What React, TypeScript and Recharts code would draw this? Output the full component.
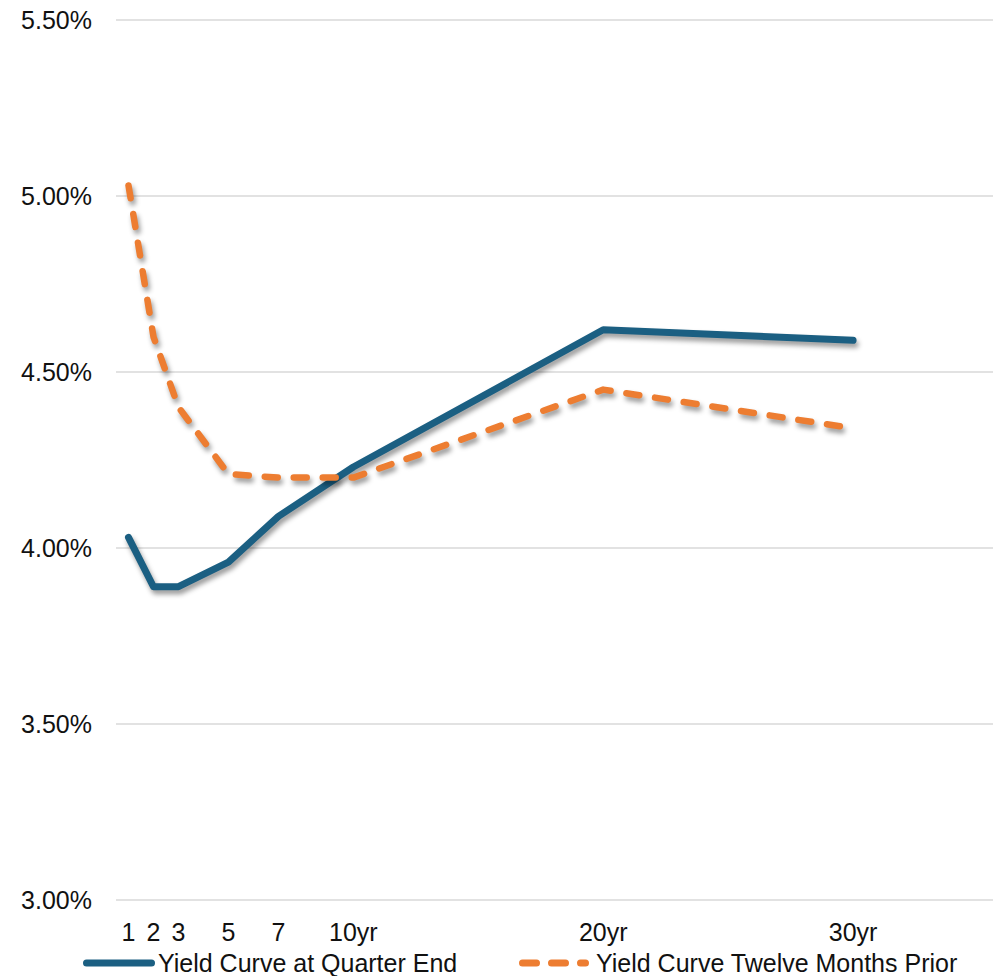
import React from 'react';
import { LineChart, Line, XAxis, YAxis, CartesianGrid, Legend } from 'recharts';

// maturities in years
const maturities = [1, 2, 3, 5, 7, 10, 20, 30];
const tickLabels = ['1', '2', '3', '5', '7', '10yr', '20yr', '30yr'];
const quarterEnd = [4.03, 3.89, 3.89, 3.96, 4.09, 4.23, 4.62, 4.59];
const twelveMonthsPrior = [5.03, 4.6, 4.4, 4.21, 4.2, 4.2, 4.45, 4.34];
const yTicks = [3, 3.5, 4, 4.5, 5, 5.5];

const seriesNames = ['Yield Curve at Quarter End', 'Yield Curve Twelve Months Prior'];

const BLUE = '#1b5f82';
const ORANGE = '#ed7d31';
const FONT = '"Liberation Sans", Arial, sans-serif';

const data = maturities.map((m, i) => ({
    maturity: m,
    quarterEnd: quarterEnd[i],
    prior: twelveMonthsPrior[i],
}));

const renderLegend = () => (
    <div style={{ position: 'relative', height: 30, fontFamily: FONT, fontSize: 25, color: '#111' }}>
        <div style={{ position: 'absolute', left: 83, top: 2, display: 'flex', alignItems: 'center', whiteSpace: 'nowrap' }}>
            <svg width={72} height={12} style={{ marginRight: 3 }}>
                <line x1={3.5} y1={6} x2={68.5} y2={6} stroke={BLUE} strokeWidth={7} strokeLinecap="round" />
            </svg>
            <span style={{ lineHeight: '30px' }}>{seriesNames[0]}</span>
        </div>
        <div style={{ position: 'absolute', left: 519, top: 2, display: 'flex', alignItems: 'center', whiteSpace: 'nowrap' }}>
            <svg width={72} height={12} style={{ marginRight: 5 }}>
                <line x1={3.5} y1={6} x2={66.5} y2={6} stroke={ORANGE} strokeWidth={7} strokeLinecap="round" strokeDasharray="14 15" />
            </svg>
            <span style={{ lineHeight: '30px' }}>{seriesNames[1]}</span>
        </div>
    </div>
);

export default function App() {
    return (
        <div style={{ position: 'absolute', left: 0, top: 0, width: 1005, height: 976, overflow: 'hidden', background: '#fff' }}>
            {/* soft drop shadow like the original */}
            <style>{'path.recharts-line-curve { filter: drop-shadow(2px 4px 2.5px rgba(0,0,0,0.4)); }'}</style>
            <LineChart width={1005} height={976} data={data} margin={{ top: 20, right: 12, bottom: 0, left: 0 }}>
                <CartesianGrid vertical={false} stroke="#d9d9d9" strokeWidth={1.5} />
                <XAxis
                    dataKey="maturity"
                    type="number"
                    domain={[0.5, 35.6]}
                    ticks={maturities}
                    tickFormatter={(v: number) => tickLabels[maturities.indexOf(v)]}
                    axisLine={false}
                    tickLine={false}
                    tickMargin={17}
                    height={46}
                    interval={0}
                    tick={{ fill: '#111', fontSize: 25, fontFamily: FONT }}
                />
                <YAxis
                    type="number"
                    domain={[3, 5.5]}
                    ticks={yTicks}
                    tickFormatter={(v: number) => v.toFixed(2) + '%'}
                    axisLine={false}
                    tickLine={false}
                    tickMargin={18}
                    width={116}
                    tick={{ fill: '#111', fontSize: 25, fontFamily: FONT }}
                />
                <Legend verticalAlign="bottom" height={30} content={renderLegend} />
                <Line
                    type="linear"
                    dataKey="quarterEnd"
                    name={seriesNames[0]}
                    stroke={BLUE}
                    strokeWidth={7}
                    strokeLinejoin="round"
                    strokeLinecap="round"
                    dot={false}
                    activeDot={false}
                    isAnimationActive={false}
                />
                <Line
                    type="linear"
                    dataKey="prior"
                    name={seriesNames[1]}
                    stroke={ORANGE}
                    strokeWidth={6.5}
                    strokeLinejoin="round"
                    strokeLinecap="round"
                    strokeDasharray="13 16"
                    dot={false}
                    activeDot={false}
                    isAnimationActive={false}
                />
            </LineChart>
        </div>
    );
}
